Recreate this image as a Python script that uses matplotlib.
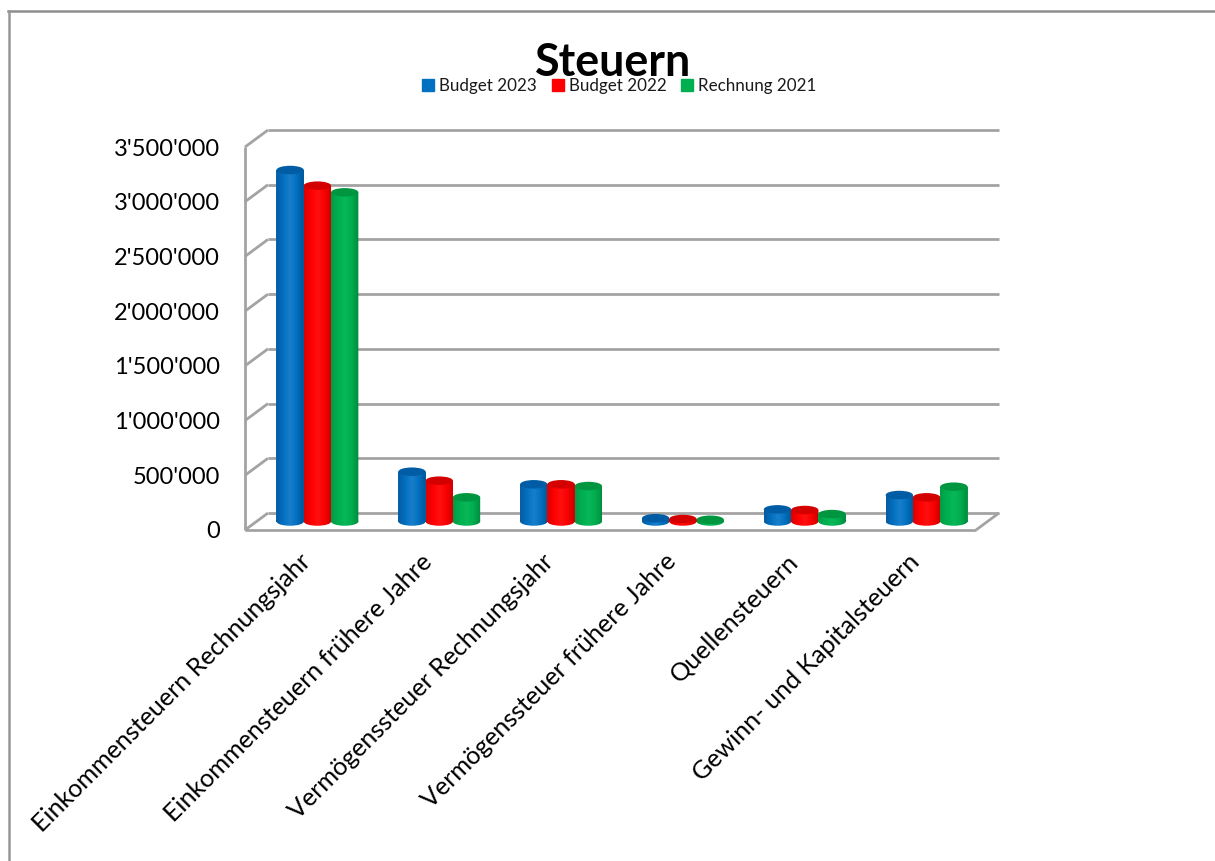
import numpy as np
import matplotlib
matplotlib.use("Agg")
import matplotlib.pyplot as plt
from matplotlib.colors import LinearSegmentedColormap
from matplotlib.lines import Line2D
from matplotlib.patches import Ellipse
from matplotlib.path import Path
from matplotlib.transforms import ScaledTranslation

categories = ["Einkommensteuern Rechnungsjahr", "Einkommensteuern frühere Jahre",
              "Vermögenssteuer Rechnungsjahr", "Vermögenssteuer frühere Jahre",
              "Quellensteuern", "Gewinn- und Kapitalsteuern"]
budget_2023 = [3212000, 455000, 340000, 30000, 111000, 242000]
budget_2022 = [3069000, 373000, 340000, 23000, 105000, 221000]
rechnung_2021 = [3008000, 221000, 324000, 16000, 68000, 318000]
series_names = ["Budget 2023", "Budget 2022", "Rechnung 2021"]
y_ticks = [0, 500000, 1000000, 1500000, 2000000, 2500000, 3000000, 3500000]
y_labels = ["0", "500'000", "1'000'000", "1'500'000", "2'000'000", "2'500'000", "3'000'000", "3'500'000"]
title = "Steuern"

W, H = 1215, 861
colors = ["#0070C0", "#FF0000", "#00B050"]
caps = ["#005CA4", "#D40000", "#00963F"]
ramps = [["#0A5AA0", "#0070C0", "#1A7FCC", "#0070C0", "#005596"],
         ["#D80000", "#FF0000", "#FF1010", "#F80000", "#C80000"],
         ["#009A45", "#00B050", "#08B858", "#00AC4E", "#008A3E"]]
GRID = "#A3A3A3"
plt.rcParams["font.family"] = ["Lato", "DejaVu Sans"]

fig = plt.figure(figsize=(W / 100, H / 100), dpi=100, facecolor="white")
L, R, T, B = 256.5, 987.5, 138.5, 521.5
ax = fig.add_axes([L / W, 1 - B / H, (R - L) / W, (B - T) / H])
ax.set_xlim(-0.5, 5.5)
ax.set_ylim(0, 3500000)
ax.patch.set_alpha(0)
for s in ax.spines.values():
    s.set_visible(False)


def shift(dx, dy):
    return ax.transData + ScaledTranslation(dx / 100, -dy / 100, fig.dpi_scale_trans)


DX, DY = 11.5, 8.5
back, front = shift(DX, -DY), shift(-DX, DY)
line = dict(color=GRID, lw=2.0, clip_on=False, solid_capstyle="butt", zorder=1)
for v in y_ticks:
    ax.plot([-0.5, 5.5], [v, v], transform=back, **line)
# slanted connections, the left wall and the floor
px = fig.dpi_scale_trans
for v in y_ticks:
    p0 = ax.transData.transform((-0.5, v))
    ax.plot([p0[0] - DX, p0[0] + DX], [p0[1] - DY, p0[1] + DY], transform=None, **line)
p = ax.transData.transform([(-0.5, 0), (-0.5, 3500000), (5.5, 0)])
ax.plot([p[0][0] - DX, p[1][0] - DX], [p[0][1] - DY, p[1][1] - DY], transform=None, **line)
ax.plot([-0.5, 5.5], [0, 0], transform=front, **line)
ax.plot([p[2][0] - DX, p[2][0] + DX], [p[2][1] - DY, p[2][1] + DY], transform=None, **line)

bar_w = 0.224
ell_h = 8.5 * 3500000 / (B - T)
values = [budget_2023, budget_2022, rechnung_2021]
for i, (vals, c, cap, ramp, name) in enumerate(zip(values, colors, caps, ramps, series_names)):
    xs = np.arange(len(categories)) + (i - 1) * bar_w
    cmap = LinearSegmentedColormap.from_list("r", ramp)
    bars = ax.bar(xs, vals, bar_w, color=c, zorder=3 + 2 * i, label=name, linewidth=0)
    for x, v, rect in zip(xs, vals, bars):
        base = Ellipse((x, 0), bar_w, ell_h, transform=ax.transData)
        clip = Path.make_compound_path(
            rect.get_path().transformed(rect.get_patch_transform()),
            base.get_path().transformed(base.get_patch_transform()))
        im = ax.imshow(np.linspace(0, 1, 64)[None, :], cmap=cmap, aspect="auto",
                       extent=(x - bar_w / 2, x + bar_w / 2, -ell_h, v),
                       zorder=3 + 2 * i, interpolation="bilinear")
        im.set_clip_box(fig.bbox)
        im.set_clip_path(clip, ax.transData)
        ax.add_patch(Ellipse((x, v), bar_w, ell_h, facecolor=cap, edgecolor="none",
                             zorder=3 + 2 * i + 0.5, clip_on=False))
ax.set_xlim(-0.5, 5.5)
ax.set_ylim(0, 3500000)

ax.set_yticks(y_ticks)
ax.set_yticklabels(y_labels, fontsize=17, color="black")
ax.tick_params(axis="y", length=0, pad=26.5)
for t in ax.get_yticklabels():
    t.set_transform(t.get_transform() + ScaledTranslation(0, -8.5 / 100, px))
ax.set_xticks(range(len(categories)))
ax.set_xticklabels(categories, fontsize=18.1, rotation=45, ha="right", va="top",
                   rotation_mode="anchor", color="black")
ax.tick_params(axis="x", length=0, pad=18)
for t in ax.get_xticklabels():
    t.set_transform(t.get_transform() + ScaledTranslation(-19 / 100, -3 / 100, px))

fig.text(613 / W, 1 - 63 / H, title, fontsize=32.3, fontweight="bold", ha="center",
         va="center", color="black", zorder=10)
leg = ax.legend(handles=[Line2D([], [], marker="s", ls="", color=c, markersize=8, label=n)
                         for c, n in zip(colors, series_names)],
                ncol=3, loc="center", bbox_to_anchor=(619 / W, 1 - 86 / H),
                bbox_transform=fig.transFigure, frameon=False, fontsize=12.25,
                handlelength=0.8, handletextpad=0.25, columnspacing=0.82,
                borderpad=0, labelcolor="#1a1a1a")
leg.set_zorder(20)

fig.add_artist(Line2D([8 / W, 1], [1 - 11 / H, 1 - 11 / H], color="#8E8E8E", lw=1.8))
fig.add_artist(Line2D([9 / W, 9 / W], [1 - 11 / H, 0], color="#969696", lw=1.8))
fig.savefig("out.png", dpi=100)
